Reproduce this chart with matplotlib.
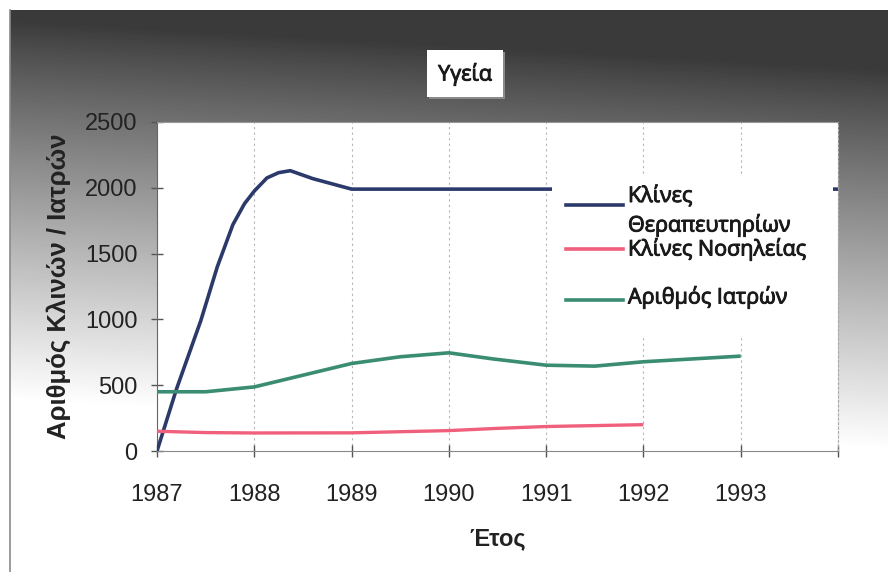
import numpy as np
import matplotlib
matplotlib.use("Agg")
import matplotlib.pyplot as plt
import matplotlib.patheffects as pe
from matplotlib.patches import Rectangle
from matplotlib.lines import Line2D

W, H = 888, 572  # canvas size in pixels

# Κλίνες Θεραπευτηρίων
beds_years = [1987.0, 1987.2, 1987.45, 1987.62, 1987.78, 1987.9, 1988.0, 1988.13, 1988.25,
              1988.37, 1988.6, 1989.0, 1990, 1991, 1992, 1993, 1994]
beds = [0, 470, 990, 1400, 1720, 1880, 1975, 2075, 2115, 2130, 2070, 1990, 1990, 1990,
        1990, 1990, 1990]

# Κλίνες Νοσηλείας
hosp_years = [1987, 1987.5, 1988, 1989, 1990, 1990.5, 1991, 1992]
hosp_beds = [150, 140, 137, 138, 155, 172, 186, 200]

# Αριθμός Ιατρών
doc_years = [1987, 1987.5, 1988, 1988.5, 1989, 1989.5, 1990, 1990.45, 1991, 1991.5,
             1992, 1993]
doctors = [450, 450, 487, 576, 665, 716, 746, 700, 652, 645, 678, 721]

year_ticks = [1987, 1988, 1989, 1990, 1991, 1992, 1993, 1994]
year_labels = ['1987', '1988', '1989', '1990', '1991', '1992', '1993', '']
value_ticks = [0, 500, 1000, 1500, 2000, 2500]

series_labels = ['Κλίνες\nΘεραπευτηρίων', 'Κλίνες Νοσηλείας', 'Αριθμός Ιατρών']
series_colors = ['#2c3a6b', '#f0607c', '#3a8c72']


def fx(px):
    return px / W


def fy(py):
    return 1 - py / H


fig = plt.figure(figsize=(W / 100, H / 100), dpi=100)
fig.patch.set_facecolor('white')

# grey gradient chart background, dark at the top, fading to white lower down
bg = fig.add_axes([fx(10), 0, fx(W - 10), 1 - 10 / H], zorder=-1)
yy, xx = np.mgrid[10:H, 10:W].astype(float)
t = np.clip((yy - 0.056 * xx - 20) / 380, 0, 1) ** 0.9
shade = 58 + (255 - 58) * t
bg.imshow(shade, cmap='gray', vmin=0, vmax=255, aspect='auto', interpolation='bilinear')
bg.set_xticks([])
bg.set_yticks([])
for side in ['top', 'right', 'bottom']:
    bg.spines[side].set_visible(False)
bg.spines['left'].set_color('#8a8a8a')
bg.spines['left'].set_linewidth(1.2)

ax = fig.add_axes([fx(157), 1 - 451 / H, fx(838 - 157), (451 - 122) / H])
ax.set_facecolor('white')

ax.plot(beds_years, beds, color=series_colors[0], lw=2.6, solid_capstyle='butt',
        solid_joinstyle='round', zorder=3)
ax.plot(hosp_years, hosp_beds, color=series_colors[1], lw=2.4, solid_capstyle='butt',
        solid_joinstyle='round', zorder=3)
ax.plot(doc_years, doctors, color=series_colors[2], lw=2.6, solid_capstyle='butt',
        solid_joinstyle='round', zorder=3)

ax.set_xlim(1987, 1994)
ax.set_ylim(0, 2500)
ax.set_xticks(year_ticks)
ax.set_xticklabels(year_labels)
ax.set_yticks(value_ticks)
ax.grid(axis='x', linestyle=(0, (2, 3)), color='#b5b5b5', lw=0.8)
ax.tick_params(direction='inout', length=8, width=1, color='#555555',
               labelsize=17, labelcolor='#222222')
ax.tick_params(axis='x', pad=20)
ax.tick_params(axis='y', pad=10)
for lab in ax.get_xticklabels() + ax.get_yticklabels():
    lab.set_family('Liberation Sans')

ax.spines['left'].set_color('#666666')
ax.spines['bottom'].set_color('#888888')
ax.spines['top'].set_color('#999999')
ax.spines['right'].set_color('#aaaaaa')
ax.spines['right'].set_linestyle((0, (2, 2)))

ax.set_xlabel('Έτος', family='Liberation Sans', fontweight='bold', fontsize=17,
              color='#222222', labelpad=15)
ax.set_ylabel('Αριθμός Κλινών / Ιατρών', family='Liberation Sans', fontweight='bold',
              fontsize=18.5, color='#222222', labelpad=10)

# slightly heavier strokes for the title and legend text
heavy = [pe.withStroke(linewidth=0.7, foreground='#1a1a1a')]

# title in its own white box
fig.add_artist(Rectangle((fx(429), fy(99)), fx(76), 47 / H, transform=fig.transFigure,
                         facecolor='#8a8a8a', edgecolor='none', zorder=1))
fig.add_artist(Rectangle((fx(427), fy(97)), fx(76), 47 / H, transform=fig.transFigure,
                         facecolor='white', edgecolor='none', zorder=1))
fig.text(fx(465), fy(74), 'Υγεία', ha='center', va='center', fontsize=15.5,
         family='Open Sans', color='#1a1a1a', zorder=4, path_effects=heavy)

# legend drawn as a white block over the right part of the plot
fig.add_artist(Rectangle((fx(552), fy(338)), fx(833 - 552), (338 - 177) / H,
                         transform=fig.transFigure, facecolor='white', edgecolor='none', zorder=1))
legend_rows = [(205, [(196, 'Κλίνες'), (225, 'Θεραπευτηρίων')]),
               (249, [(249, 'Κλίνες Νοσηλείας')]),
               (300, [(297, 'Αριθμός Ιατρών')])]
for (line_y, texts), color in zip(legend_rows, series_colors):
    fig.add_artist(Line2D([fx(566), fx(623)], [fy(line_y), fy(line_y)], color=color, lw=2.6,
                          transform=fig.transFigure, zorder=2))
    for text_y, text in texts:
        fig.text(fx(628), fy(text_y), text, ha='left', va='center', fontsize=15.5,
                 family='Open Sans', color='#1a1a1a', zorder=4, path_effects=heavy)

fig.savefig('out.png', dpi=100)
